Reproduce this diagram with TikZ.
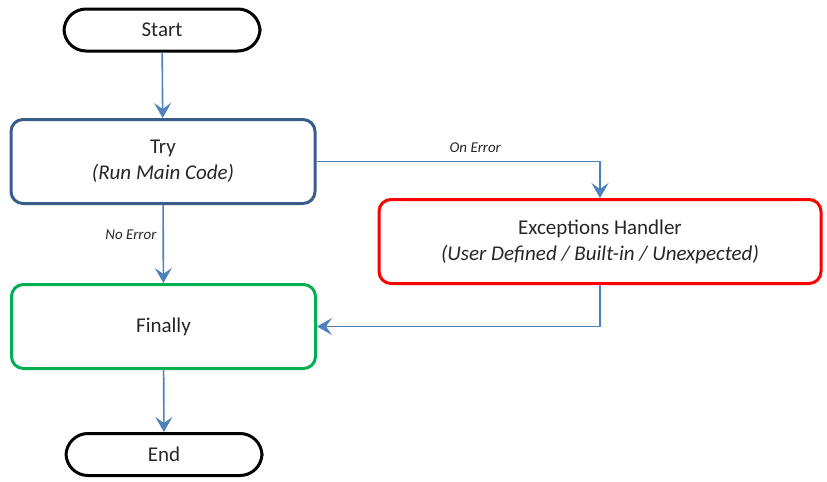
\documentclass[tikz,border=0pt]{standalone}
\usepackage{fontspec}
\setmainfont{Carlito}
\usetikzlibrary{arrows.meta}

\begin{document}
\begin{tikzpicture}[x=0.5pt,y=0.5pt,
  flow/.style={draw=arrowblue,line width=0.8pt,-{Stealth[length=7.5pt,width=8.5pt,inset=3pt]}},
  terminal/.style={draw=black,line width=1.5pt,rounded corners=11pt,minimum width=98pt,minimum height=21pt,font=\fontsize{10.5}{13}\selectfont},
  block/.style={line width=1.5pt,rounded corners=6pt,minimum height=42pt,align=center,font=\fontsize{10.5}{13}\selectfont},
  tag/.style={font=\fontsize{7.5}{9}\selectfont\itshape,inner sep=1pt}]
\definecolor{arrowblue}{RGB}{79,129,189}
\definecolor{trydark}{RGB}{56,93,138}
\definecolor{okgreen}{RGB}{0,176,80}
\definecolor{inktext}{RGB}{38,38,38}
\useasboundingbox (0,0) rectangle (827,-482);
\node [terminal,text=inktext] (start) at (162,-30) {Start};
\node [block,draw=trydark,minimum width=152pt,text=inktext] (try) at (163,-161.5) {Try\\\textit{(Run Main Code)}};
\node [block,draw=red,minimum width=221pt,text=inktext] (handler) at (600,-241.5) {Exceptions Handler\\\textit{(User Defined / Built-in / Unexpected)}};
\node [block,draw=okgreen,minimum width=152pt,text=inktext] (finally) at (163.5,-326.5) {Finally};
\node [terminal,text=inktext] (end) at (164,-454.5) {End};
\draw [flow] (start) -- (try);
\draw [flow] (try) -- node [tag,left=2pt,pos=0.38,text=inktext] {No Error} (finally);
\draw [flow] (try.east) -| node [tag,above=3pt,pos=0.28,text=inktext] {On Error} (handler.north);
\draw [flow] (handler.south) |- (finally.east);
\draw [flow] (finally) -- (end);
\end{tikzpicture}
\end{document}
